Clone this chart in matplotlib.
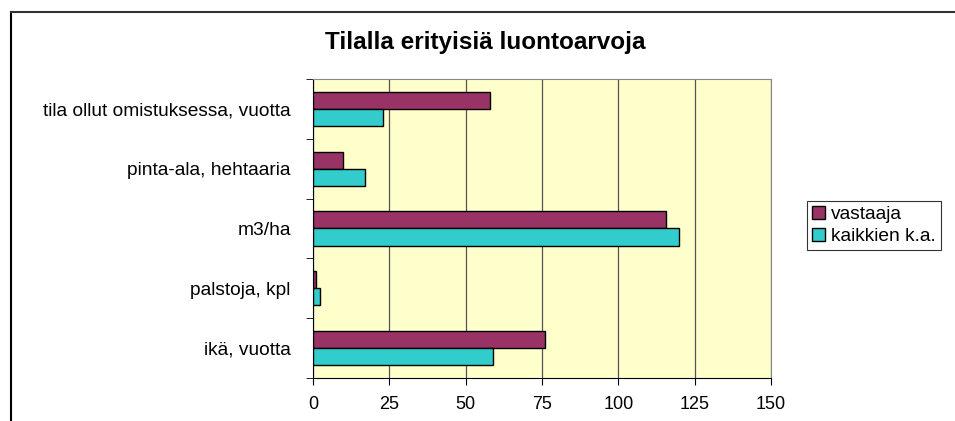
import matplotlib.pyplot as plt
import numpy as np
from matplotlib.lines import Line2D

plt.rcParams['font.family'] = ['Liberation Sans', 'DejaVu Sans']

categories = ['ikä, vuotta', 'palstoja, kpl', 'm3/ha', 'pinta-ala, hehtaaria',
              'tila ollut omistuksessa, vuotta']
vastaaja = [76, 1.1, 115.6, 10, 58]
kaikkien = [59, 2.2, 120, 17, 23]
xticks = [0, 25, 50, 75, 100, 125, 150]

fig = plt.figure(figsize=(9.55, 4.21), dpi=100)
ax = fig.add_axes([0.3277, 0.1021, 0.4796, 0.7103])
ax.set_facecolor('#FFFFCC')

y = np.arange(len(categories))
h = 0.285
ax.barh(y + h / 2, vastaaja, height=h, color='#993366', edgecolor='black',
        linewidth=1, label='vastaaja', zorder=3)
ax.barh(y - h / 2, kaikkien, height=h, color='#33CCCC', edgecolor='black',
        linewidth=1, label='kaikkien k.a.', zorder=3)

ax.set_xlim(0, 150)
ax.set_ylim(-0.5, len(categories) - 0.5)
ax.set_xticks(xticks)
ax.set_xticklabels([str(t) for t in xticks], fontsize=13)
ax.set_yticks(y)
ax.set_yticklabels(categories, fontsize=13.8)
ax.tick_params(axis='y', length=0, pad=16)
ax.set_yticks(np.arange(-0.5, len(categories)), minor=True)
ax.tick_params(axis='y', which='minor', length=5, direction='out')
ax.tick_params(axis='x', length=5, direction='out', pad=8)
ax.grid(axis='x', color='#555555', linewidth=0.9, zorder=1)

for s in ['top', 'right']:
    ax.spines[s].set_color('#888888')
for s in ['left', 'bottom']:
    ax.spines[s].set_color('black')

fig.text(0.508, 1 - 42 / 421, 'Tilalla erityisiä luontoarvoja', ha='center',
         va='center', fontsize=17.5, fontweight='bold')

leg = ax.legend(loc='upper left', bbox_to_anchor=(807 / 955, 1 - 201 / 421),
                bbox_transform=fig.transFigure, fontsize=13.8, frameon=True,
                fancybox=False, edgecolor='black', handlelength=0.7,
                handleheight=0.7, handletextpad=0.3, borderpad=0.25,
                labelspacing=0.25, borderaxespad=0)
leg.get_frame().set_linewidth(0.8)

# outer chart frame
fig.add_artist(Line2D([11 / 955, 11 / 955], [0, 1 - 12 / 421], color='black',
                      linewidth=1.5, transform=fig.transFigure))
fig.add_artist(Line2D([11 / 955, 1], [1 - 12 / 421, 1 - 12 / 421], color='#333333',
                      linewidth=1.5, transform=fig.transFigure))

fig.savefig('out.png', dpi=100)
